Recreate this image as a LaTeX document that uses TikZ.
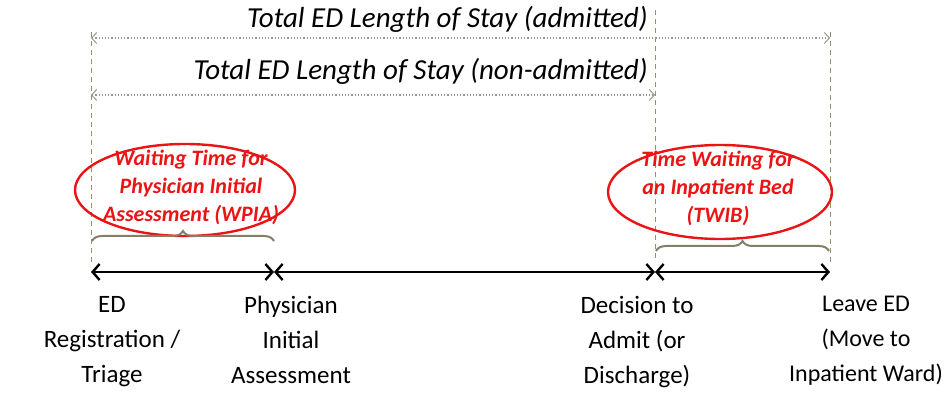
\documentclass[tikz,border=0pt]{standalone}
\usepackage{fontspec}
\setmainfont{Carlito}
\usetikzlibrary{arrows.meta,decorations.pathreplacing}
\definecolor{guide}{RGB}{150,145,100}
\definecolor{bracec}{RGB}{130,128,105}
\definecolor{dotc}{RGB}{150,150,150}
\definecolor{redc}{RGB}{235,20,20}
\tikzset{
  guideline/.style={guide, line width=1pt, dash pattern=on 5pt off 4pt},
  spanarrow/.style={dotc, line width=1.2pt, dotted, {Straight Barb[length=5pt,width=11pt,line width=1pt]}-{Straight Barb[length=5pt,width=11pt,line width=1pt]}},
  stagearrow/.style={black, line width=2.8pt, {Straight Barb[length=7pt,width=16pt,line width=2.4pt]}-{Straight Barb[length=7pt,width=16pt,line width=2.4pt]}},
  toptext/.style={font=\itshape\fontsize{29}{32}\selectfont, anchor=east, inner sep=0pt},
  ovaltext/.style={font=\bfseries\itshape\fontsize{22}{28}\selectfont, text=redc, align=center, inner sep=0pt},
  oval/.style={draw=redc, line width=2.4pt},
  bracestyle/.style={draw=bracec, line width=2pt, decorate, decoration={brace, amplitude=10pt}},
  stagelabel/.style={font=\fontsize{25}{35}\selectfont, align=center, anchor=north, inner sep=0pt},
}
\begin{document}
\begin{tikzpicture}[x=1pt,y=-1pt]
\useasboundingbox (0,0) rectangle (945,395);
% key points
\coordinate (aT) at (91,32);
\coordinate (aB) at (91,272);
\coordinate (bB) at (274,272);
\coordinate (cT) at (655,10);
\coordinate (cB) at (655,272);
\coordinate (dT) at (830,32);
\coordinate (dB) at (830,272);
% guide lines
\draw[guideline] (aT) -- (91,262);
\draw[guideline] (cT) -- (655,262);
\draw[guideline] (dT) -- (830,262);
% top spans
\coordinate (s1l) at (91,38);
\coordinate (s1r) at (830,38);
\coordinate (s2l) at (91,95);
\coordinate (s2r) at (655,95);
\draw[spanarrow] (s1l) -- (s1r);
\draw[spanarrow] (s2l) -- (s2r);
\node[toptext] (t1) at (648,19) {Total ED Length of Stay (admitted)};
\node[toptext] (t2) at (648,71) {Total ED Length of Stay (non-admitted)};
% ellipses
\draw[oval] (185,190) ellipse [x radius=110, y radius=46];
\node[ovaltext] (w1) at (191,187) {Waiting Time for\\Physician Initial\\Assessment (WPIA)};
\draw[oval] (720,192) ellipse [x radius=112, y radius=47];
\node[ovaltext] (w2) at (718,188) {Time Waiting for\\an Inpatient Bed\\(TWIB)};
% braces
\coordinate (br1l) at (92,241);
\coordinate (br1r) at (274,241);
\coordinate (br2l) at (656,251);
\coordinate (br2r) at (829,251);
\draw[bracestyle] (br1l) -- (br1r);
\draw[bracestyle] (br2l) -- (br2r);
% stage arrows
\draw[stagearrow] (aB) -- (bB);
\draw[stagearrow] (bB) -- (cB);
\draw[stagearrow] (cB) -- (dB);
% labels
\node[stagelabel] (l1) at (112,296) {ED\\Registration /\\Triage};
\node[stagelabel] (l2) at (291,296) {Physician\\Initial\\Assessment};
\node[stagelabel] (l3) at (637,296) {Decision to\\Admit (or\\Discharge)};
\node[stagelabel, font=\fontsize{24}{35}\selectfont] (l4) at (866,296) {Leave ED\\(Move to\\Inpatient Ward)};
\end{tikzpicture}
\end{document}
